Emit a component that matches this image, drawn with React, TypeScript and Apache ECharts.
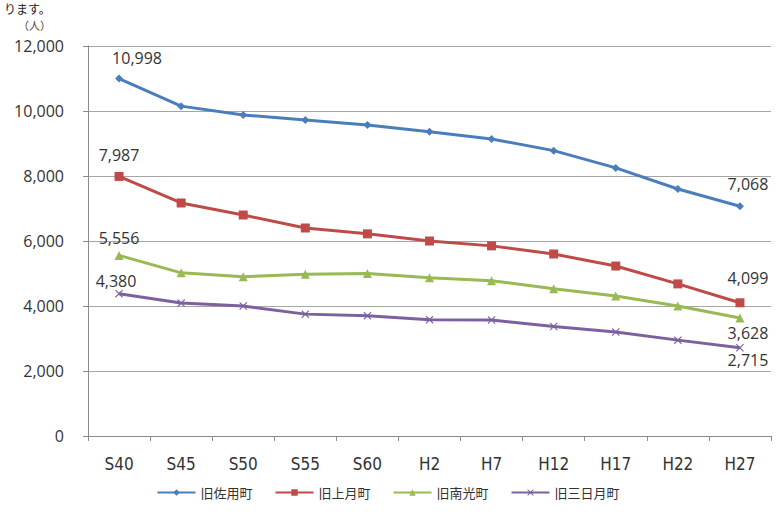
import React, { useEffect, useRef } from "react";
import * as echarts from "echarts";

const categories = ["S40", "S45", "S50", "S55", "S60", "H2", "H7", "H12", "H17", "H22", "H27"];
const saku = [10998, 10150, 9880, 9720, 9570, 9360, 9140, 8780, 8250, 7600, 7068];
const kozuki = [7987, 7170, 6800, 6400, 6220, 6000, 5850, 5600, 5230, 4680, 4099];
const nanko = [5556, 5020, 4900, 4980, 5000, 4870, 4780, 4530, 4310, 4000, 3628];
const mikazuki = [4380, 4090, 4000, 3750, 3700, 3580, 3570, 3370, 3200, 2950, 2715];
const seriesNames = ["旧佐用町", "旧上月町", "旧南光町", "旧三日月町"];
const yTicks = [0, 2000, 4000, 6000, 8000, 10000, 12000];

const FONT = "'Noto Sans CJK JP', 'Noto Sans', sans-serif";
const NUMFONT = "'Open Sans', 'DejaVu Sans', sans-serif";
const XMARK = "path://M0,1L1,0L5,4L9,0L10,1L6,5L10,9L9,10L5,6L1,10L0,9L4,5Z";

function withLabels(values: number[], firstPos: any, lastPos: any) {
  return values.map((v, i) => {
    if (i === 0) return { value: v, label: { show: true, ...firstPos } };
    if (i === values.length - 1) return { value: v, label: { show: true, ...lastPos } };
    return { value: v };
  });
}

export default function App() {
  const ref = useRef<HTMLDivElement>(null);
  useEffect(() => {
    document.body.style.margin = "0";
    const chart = echarts.init(ref.current!, null, { renderer: "svg" });
    const labelBase = {
      color: "#333",
      fontSize: 16,
      fontFamily: NUMFONT,
      formatter: (p: any) => Number(p.value).toLocaleString("en-US"),
    };
    const mk = (name: string, data: any[], color: string, symbol: string, symbolSize: number) => ({
      name,
      type: "line",
      data,
      color,
      symbol,
      symbolSize,
      lineStyle: { width: 3, color },
      itemStyle: { color },
      label: labelBase,
      z: 3,
    });
    chart.setOption({
      animation: false,
      backgroundColor: "#fff",
      grid: { left: 88, right: 5, top: 46, bottom: 83 },
      graphic: [
        { type: "text", left: 18, top: 19, style: { text: "（人）", fontSize: 11, fill: "#444", fontFamily: FONT } },
        { type: "text", left: 4, top: 2, style: { text: "ります。", fontSize: 12, fill: "#222", fontFamily: FONT } },
      ],
      legend: {
        bottom: 15,
        left: "center",
        itemWidth: 38,
        itemHeight: 8,
        itemGap: 22,
        textStyle: { fontSize: 13, color: "#333", fontFamily: FONT },
        data: seriesNames,
      },
      xAxis: {
        type: "category",
        data: categories,
        boundaryGap: true,
        axisLine: { lineStyle: { color: "#8c8c8c", width: 1 } },
        axisTick: { show: true, length: 5, lineStyle: { color: "#8c8c8c" } },
        axisLabel: { color: "#333", fontSize: 17, margin: 19, fontFamily: "'DejaVu Sans Condensed', 'Liberation Sans Narrow', sans-serif" },
      },
      yAxis: {
        type: "value",
        min: yTicks[0],
        max: yTicks[yTicks.length - 1],
        interval: 2000,
        axisLine: { show: true, lineStyle: { color: "#8c8c8c" } },
        axisTick: { show: true, length: 5, lineStyle: { color: "#8c8c8c" } },
        splitLine: { lineStyle: { color: "#a6a6a6", width: 1 } },
        axisLabel: {
          color: "#333",
          fontSize: 16,
          margin: 24,
          fontFamily: NUMFONT,
          formatter: (v: number) => v.toLocaleString("en-US"),
        },
      },
      series: [
        mk(seriesNames[0], withLabels(saku, { position: "top", distance: 9, offset: [18, 0] }, { position: "top", distance: 10, offset: [8, 0] }), "#4a7ebb", "diamond", 8),
        mk(seriesNames[1], withLabels(kozuki, { position: "top", distance: 9 }, { position: "top", distance: 12, offset: [8, 0] }), "#be4b48", "rect", 9),
        mk(seriesNames[2], withLabels(nanko, { position: "top", distance: 5 }, { position: "bottom", distance: 2, offset: [8, 0] }), "#98b954", "triangle", 9),
        mk(seriesNames[3], withLabels(mikazuki, { position: "top", distance: 1, offset: [-3, 0] }, { position: "bottom", distance: 0, offset: [8, 0] }), "#7d60a0", XMARK, 8),
      ],
    });
    return () => chart.dispose();
  }, []);
  return <div ref={ref} style={{ width: 776, height: 519, position: "absolute", left: 0, top: 0 }} />;
}
